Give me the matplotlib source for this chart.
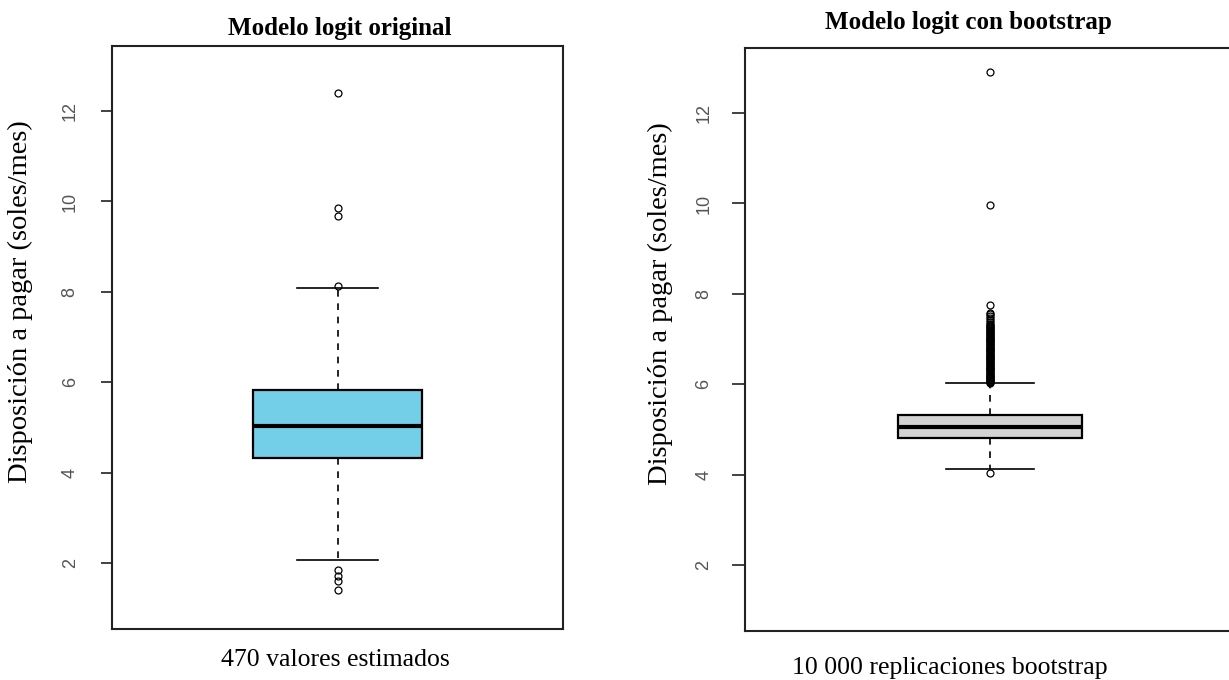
import matplotlib
matplotlib.use("Agg")
import matplotlib.pyplot as plt

# ---- data ----
# left: 470 estimated values (original logit model)
orig_stats = {"med": 5.04, "q1": 4.33, "q3": 5.82, "whislo": 2.07, "whishi": 8.08}
orig_fliers = [12.40, 9.85, 9.67, 8.13, 1.85, 1.72, 1.60, 1.40]

# right: 10 000 bootstrap replications (upper tail is a solid run of outliers)
boot_stats = {"med": 5.05, "q1": 4.81, "q3": 5.32, "whislo": 4.12, "whishi": 6.03}
boot_fliers = [12.92, 9.96, 7.76, 7.58, 7.55, 7.50, 7.46, 7.42, 7.38, 7.33,
               7.30, 7.28, 7.26, 7.24, 7.22, 7.20, 7.17, 7.15, 7.13, 7.11,
               7.09, 7.07, 7.05, 7.03, 7.01, 6.99, 6.97, 6.95, 6.93, 6.91,
               6.89, 6.87, 6.85, 6.83, 6.81, 6.79, 6.77, 6.75, 6.73, 6.71,
               6.69, 6.67, 6.65, 6.63, 6.61, 6.59, 6.57, 6.55, 6.53, 6.51,
               6.49, 6.47, 6.45, 6.43, 6.41, 6.39, 6.37, 6.35, 6.33, 6.31,
               6.29, 6.27, 6.25, 6.23, 6.21, 6.19, 6.17, 6.15, 6.13, 6.11,
               6.09, 6.07, 6.06, 6.05, 6.04, 6.03, 4.04]

yticks = [2, 4, 6, 8, 10, 12]
ylim = (0.54, 13.44)

titles = ["Modelo logit original", "Modelo logit con bootstrap"]
xlabels = ["470 valores estimados", "10 000 replicaciones bootstrap"]
ylabel = "Disposición a pagar (soles/mes)"
colors = ["#73CEE8", "#D3D3D3"]

W, H = 1229, 680
fig = plt.figure(figsize=(W / 100, H / 100), dpi=100)

serif = ["Liberation Serif", "DejaVu Serif"]
sans = ["Liberation Sans", "DejaVu Sans"]


def px_axes(x0, y0, x1, y1):
    return fig.add_axes([x0 / W, 1 - y1 / H, (x1 - x0) / W, (y1 - y0) / H])


def draw(ax, stats, fliers, color, tlen, tpad):
    st = dict(stats)
    st["fliers"] = fliers
    ax.bxp([st], positions=[1], widths=0.375, capwidths=0.18, patch_artist=True,
           boxprops=dict(facecolor=color, edgecolor="black", linewidth=1.6),
           medianprops=dict(color="black", linewidth=3),
           whiskerprops=dict(color="black", linestyle=(0, (4, 4)), linewidth=1.2),
           capprops=dict(color="black", linewidth=1.2),
           flierprops=dict(marker="o", markersize=5, markerfacecolor="none",
                           markeredgecolor="black", markeredgewidth=0.9))
    ax.set_xlim(0.5, 1.5)
    ax.set_ylim(*ylim)
    ax.set_xticks([])
    ax.set_yticks(yticks)
    ax.set_yticklabels([str(t) for t in yticks], rotation=90, va="center",
                       family=sans, fontsize=13, color="#555555")
    ax.tick_params(axis="y", direction="out", length=tlen, width=1.3,
                   color="#333333", pad=tpad)
    for s in ax.spines.values():
        s.set_linewidth(1.5)
        s.set_color("#222222")


ax1 = px_axes(112, 46, 563, 629)
draw(ax1, orig_stats, orig_fliers, colors[0], 8, 16)

ax2 = px_axes(745, 48, 1235, 631)
draw(ax2, boot_stats, boot_fliers, colors[1], 9.5, 14)

# titles, axis labels (placed like the composite figure)
fig.text(340 / W, 1 - 28 / H, titles[0], ha="center", va="center",
         family=serif, fontweight="bold", fontsize=18)
fig.text(968 / W, 1 - 22 / H, titles[1], ha="center", va="center",
         family=serif, fontweight="bold", fontsize=18)
fig.text(335 / W, 1 - 660 / H, xlabels[0], ha="center", va="center",
         family=serif, fontsize=18.5)
fig.text(950 / W, 1 - 668 / H, xlabels[1], ha="center", va="center",
         family=serif, fontsize=18.5)
fig.text(20 / W, 1 - 302 / H, ylabel, ha="center", va="center", rotation=90,
         family=serif, fontsize=20.5)
fig.text(660 / W, 1 - 304 / H, ylabel, ha="center", va="center", rotation=90,
         family=serif, fontsize=20.5)

fig.savefig("out.png", dpi=100)
